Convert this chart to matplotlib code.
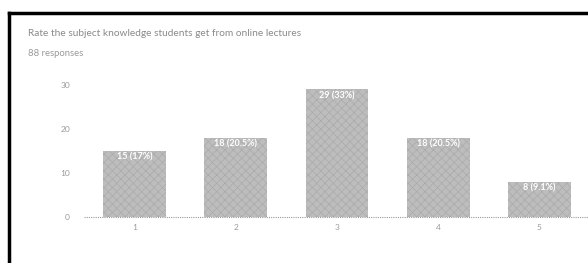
import matplotlib
matplotlib.use("Agg")
import matplotlib.pyplot as plt
from matplotlib.lines import Line2D
import numpy as np

CATEGORIES = ["1", "2", "3", "4", "5"]
COUNTS = [15, 18, 29, 18, 8]
PERCENTS = ["17%", "20.5%", "33%", "20.5%", "9.1%"]
TITLE = "Rate the subject knowledge students get from online lectures"
SUBTITLE = "88 responses"
YTICKS = [0, 10, 20, 30]

plt.rcParams["font.family"] = ["Lato", "DejaVu Sans"]
plt.rcParams["hatch.linewidth"] = 0.5

fig = plt.figure(figsize=(5.88, 2.63), dpi=100)
ax = fig.add_axes([84 / 588, 1 - 217 / 263, 506 / 588, 132 / 263])

x = np.arange(len(CATEGORIES))
ax.bar(x, COUNTS, width=0.62, color="#bdbdbd", edgecolor="#aaaaaa",
       linewidth=0, hatch="xxxx")
for xi, c, p in zip(x, COUNTS, PERCENTS):
    ax.text(xi, c - 0.4, f"{c} ({p})", ha="center", va="top",
            color="white", fontsize=6.5, fontweight="bold")

ax.set_xlim(-0.5, 4.5)
ax.set_ylim(0, 30)
ax.set_xticks(x)
ax.set_xticklabels(CATEGORIES)
ax.set_yticks(YTICKS)
for s in ax.spines.values():
    s.set_visible(False)
ax.axhline(0, color="#9a9a9a", linestyle=(0, (1, 1)), linewidth=0.8, clip_on=False)
ax.tick_params(length=0, labelsize=6, labelcolor="#9a9a9a")
ax.tick_params(axis="x", pad=5)
ax.tick_params(axis="y", pad=10)

fig.text(28 / 588, 1 - 34 / 263, TITLE, fontsize=7.3, color="#8a8a8a", va="center")
fig.text(28 / 588, 1 - 54 / 263, SUBTITLE, fontsize=6.8, color="#9a9a9a", va="center")

# frame border (top and left edges)
fig.add_artist(Line2D([9 / 588, 1.0], [1 - 13 / 263, 1 - 13 / 263], color="black", linewidth=2.5))
fig.add_artist(Line2D([9 / 588, 9 / 588], [0, 1 - 13 / 263], color="black", linewidth=2.5))

fig.savefig("out.png", dpi=100)
